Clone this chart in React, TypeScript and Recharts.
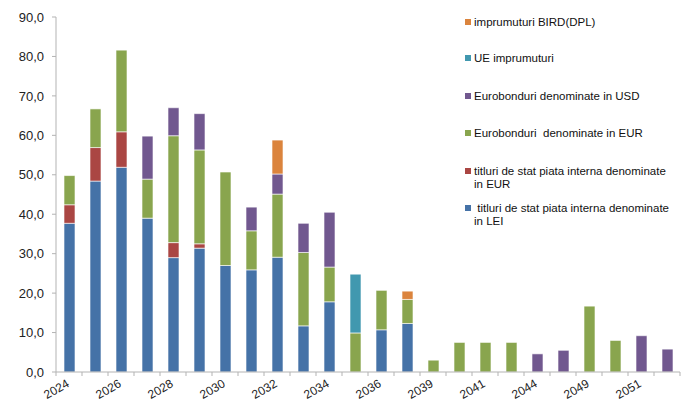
import React from "react";
import { BarChart, Bar, XAxis, YAxis, Legend } from "recharts";

const years = ["2024","2025","2026","2027","2028","2029","2030","2031","2032","2033","2034","2035","2036","2038","2039","2040","2041","2043","2044","2047","2049","2050","2051","2053"];
const lei =     [37.7, 48.4, 51.9, 39.0, 29.0, 31.4, 27.0, 25.9, 29.1, 11.7, 17.8, null, 10.7, 12.3, null, null, null, null, null, null, null, null, null, null];
const eurInt =  [4.7, 8.5, 9.0, null, 3.8, 1.1, null, null, null, null, null, null, null, null, null, null, null, null, null, null, null, null, null, null];
const eurEuro = [7.4, 9.8, 20.7, 9.9, 27.1, 23.8, 23.7, 9.9, 16.0, 18.6, 8.8, 9.9, 10.0, 6.1, 3.0, 7.5, 7.5, 7.5, null, null, 16.7, 8.0, null, null];
const usd =     [null, null, null, 10.9, 7.1, 9.2, null, 6.0, 5.1, 7.4, 13.9, null, null, null, null, null, null, null, 4.6, 5.5, null, null, 9.2, 5.8];
const ue =      [null, null, null, null, null, null, null, null, null, null, null, 14.9, null, null, null, null, null, null, null, null, null, null, null, null];
const bird =    [null, null, null, null, null, null, null, null, 8.6, null, null, null, null, 2.1, null, null, null, null, null, null, null, null, null, null];
const yTicks = [0, 10, 20, 30, 40, 50, 60, 70, 80, 90];

const series = [
  { key: "lei", name: " titluri de stat piata interna denominate\nin LEI", color: "#4572A7", values: lei },
  { key: "eurInt", name: "titluri de stat piata interna denominate\nin EUR", color: "#AA4643", values: eurInt },
  { key: "eurEuro", name: "Eurobonduri  denominate in EUR", color: "#89A54E", values: eurEuro },
  { key: "usd", name: "Eurobonduri denominate in USD", color: "#71588F", values: usd },
  { key: "ue", name: "UE imprumuturi", color: "#4198AF", values: ue },
  { key: "bird", name: "imprumuturi BIRD(DPL)", color: "#DB843D", values: bird },
];

const data = years.map((y, i) => {
  const row: any = { year: y };
  series.forEach((s) => { row[s.key] = s.values[i]; });
  return row;
});

const FONT = "'Liberation Sans', Arial, sans-serif";
const BAND = 26;

const XTick = (props: any) => {
  const { x, y, payload, index } = props;
  const left = x - BAND / 2;
  const right = x + BAND / 2;
  const tx = x + 1;
  const ty = y + 14;
  return (
    <g>
      <line x1={left} y1={y} x2={left} y2={y + 4} stroke="#b3b3b3" />
      {index === years.length - 1 && <line x1={right} y1={y} x2={right} y2={y + 4} stroke="#b3b3b3" />}
      {index % 2 === 0 && (
        <text
          x={tx}
          y={ty}
          textAnchor="end"
          transform={`rotate(-30, ${tx}, ${ty})`}
          fontFamily={FONT}
          fontSize={12}
          fill="#222"
        >
          {payload.value}
        </text>
      )}
    </g>
  );
};

const legendTops = [22, 58, 96, 133, 171, 208];

const LegendContent = () => {
  const items = [...series].reverse();
  return (
    <div style={{ position: "relative", width: 226, height: 240, fontFamily: FONT, fontSize: 11.5, color: "#111" }}>
      {items.map((s, i) => {
        const lines = s.name.split("\n");
        return (
          <div key={s.key} style={{ position: "absolute", left: 5, top: legendTops[i] - 6.5, lineHeight: "13px", whiteSpace: "pre" }}>
            <span style={{ position: "absolute", left: 0, top: 3.5, width: 6, height: 6, background: s.color }} />
            {lines.map((ln, j) => (
              <div key={j} style={{ paddingLeft: 9 }}>{ln}</div>
            ))}
          </div>
        );
      })}
    </div>
  );
};

export default function App() {
  return (
    <div style={{ position: "absolute", left: 0, top: 0, width: 686, height: 403, background: "#fff" }}>
      <BarChart width={686} height={403} data={data} margin={{ top: 17, right: 6, bottom: 0, left: 0 }} barSize={11}>
        <XAxis
          dataKey="year"
          interval={0}
          height={31}
          tickSize={0}
          tickMargin={0}
          tickLine={false}
          axisLine={{ stroke: "#b3b3b3" }}
          tick={<XTick />}
        />
        <YAxis
          width={56}
          domain={[0, 90]}
          ticks={yTicks}
          interval={0}
          tickSize={4}
          tickMargin={8}
          tickLine={{ stroke: "#b3b3b3" }}
          axisLine={{ stroke: "#b3b3b3" }}
          tickFormatter={(v: number) => v.toFixed(1).replace(".", ",")}
          tick={{ fontFamily: FONT, fontSize: 13, fill: "#222" }}
        />
        <Legend
          layout="vertical"
          align="center"
          verticalAlign="middle"
          wrapperStyle={{ position: "absolute", left: 460, top: 0, width: 226, height: 240 }}
          content={<LegendContent />}
        />
        {series.map((s) => (
          <Bar
            key={s.key}
            dataKey={s.key}
            name={s.name}
            stackId="a"
            fill={s.color}
            stroke="#ffffff"
            strokeOpacity={0.6}
            strokeWidth={1}
            isAnimationActive={false}
          />
        ))}
      </BarChart>
    </div>
  );
}
